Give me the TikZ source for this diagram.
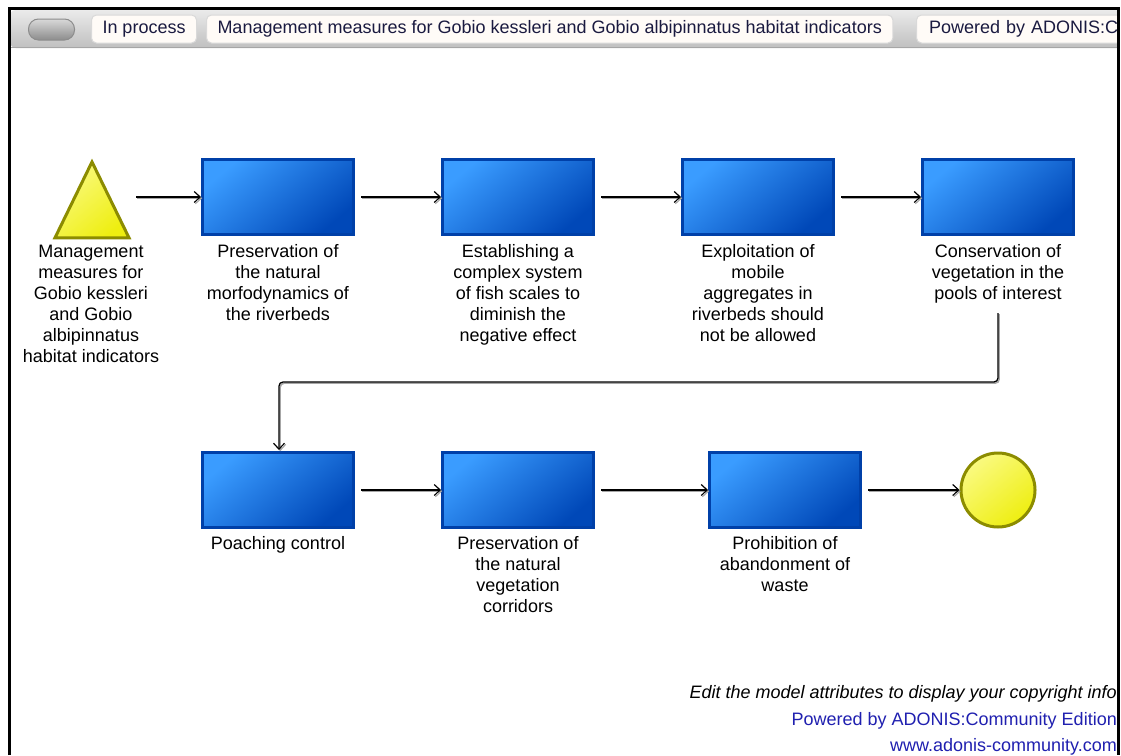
\documentclass[tikz,border=0pt]{standalone}
\usepackage{fontspec}
\setmainfont{Liberation Sans}
\usetikzlibrary{arrows.meta,shapes.geometric}
\definecolor{boxlight}{HTML}{3A9CFF}
\definecolor{boxdark}{HTML}{0048B8}
\definecolor{boxborder}{HTML}{0040A8}
\definecolor{ylight}{HTML}{FAFA80}
\definecolor{ydark}{HTML}{EEEE10}
\definecolor{yborder}{HTML}{8C8C00}
\definecolor{tabtext}{HTML}{1A1A40}
\definecolor{linkblue}{HTML}{2020B0}
\tikzset{
  txt/.style={font=\fontsize{18}{21}\selectfont, inner sep=0pt, align=center},
  stepbox/.style={draw=boxborder, line width=3pt, minimum width=151pt, minimum height=75pt,
    top color=boxlight, bottom color=boxdark, shading angle=40},
  lbl/.style={txt, anchor=north},
  conn/.style={draw=black, line width=1.3pt, -{Straight Barb[length=6pt,width=11pt,line width=1.1pt]},
    preaction={draw=black!35, line width=1.5pt, transform canvas={shift={(1.2pt,-1.2pt)}}}},
  tab/.style={draw=black!15, fill=white!97!orange, rounded corners=5pt, line width=1pt,
    minimum height=28pt, inner xsep=11pt, font=\fontsize{18}{20}\selectfont, text=tabtext},
}
\begin{document}
\begin{tikzpicture}[x=1pt,y=-1pt]
\useasboundingbox (0,0) rectangle (1121,755);
\fill[white] (0,0) rectangle (1121,755);
\begin{scope}
\clip (10,10) rectangle (1117,755);
% toolbar
\shade[top color=black!8, bottom color=black!25, rounded corners=6pt] (10,10) rectangle (1140,48);
\draw[black!35, line width=1pt] (10,47.5) -- (1140,47.5);
\node[draw=black!45, line width=1pt, rounded corners=10pt, minimum width=46pt, minimum height=21pt,
  top color=black!15, bottom color=black!45] (pill) at (51.5,29.5) {};
\node[tab, anchor=west] (t1) at (91,29) {In process};
\node[tab, anchor=west] (t2) at (206,29) {Management measures for Gobio kessleri and Gobio albipinnatus habitat indicators};
\node[tab, anchor=west, minimum width=230pt, text width=205pt, align=left] (t3) at (916,29) {Powered by ADONIS:C};
% footer
\node[txt, anchor=base east, font=\fontsize{18}{21}\selectfont\itshape] (f1) at (1117,698.5) {Edit the model attributes to display your copyright info};
\node[txt, anchor=base east, text=linkblue] (f2) at (1117,725.5) {Powered by ADONIS:Community Edition};
\node[txt, anchor=base east, text=linkblue] (f3) at (1117,751) {\underline{www.adonis-community.com}};
\end{scope}
% frame
\draw[black, line width=3pt] (9,755) -- (9,8.5) -- (1118.5,8.5) -- (1118.5,755);
% start triangle
\node[draw=yborder, line width=3pt, isosceles triangle, isosceles triangle apex angle=52,
  shape border rotate=90, minimum height=76pt, inner sep=0pt, anchor=apex,
  top color=ylight, bottom color=ydark, shading angle=40] (start) at (92,158.5) {};
\node[lbl] (lstart) at (91,244.5) {Management\\measures for\\Gobio kessleri\\and Gobio\\albipinnatus\\habitat indicators};
% row 1
\node[stepbox] (b1) at (278,197) {};
\node[stepbox] (b2) at (518,197) {};
\node[stepbox] (b3) at (758,197) {};
\node[stepbox] (b4) at (998,197) {};
\node[lbl] (l1) at (278,244.5) {Preservation of\\the natural\\morfodynamics of\\the riverbeds};
\node[lbl] (l2) at (518,244.5) {Establishing a\\complex system\\of fish scales to\\diminish the\\negative effect};
\node[lbl] (l3) at (758,244.5) {Exploitation of\\mobile\\aggregates in\\riverbeds should\\not be allowed};
\node[lbl] (l4) at (998,244.5) {Conservation of\\vegetation in the\\pools of interest};
% row 2
\node[stepbox] (b5) at (278,490) {};
\node[stepbox] (b6) at (518,490) {};
\node[stepbox] (b7) at (785,490) {};
\node[draw=yborder, line width=3pt, circle, minimum size=74pt, inner sep=0pt,
  top color=ylight, bottom color=ydark, shading angle=40] (end) at (998,490) {};
\node[lbl] (l5) at (278,536.5) {Poaching control};
\node[lbl] (l6) at (518,536.5) {Preservation of\\the natural\\vegetation\\corridors};
\node[lbl] (l7) at (785,536.5) {Prohibition of\\abandonment of\\waste};
% connectors
\draw[conn] (136,197) -- (b1.west);
\draw[conn] (b1.east) ++(6,0) -- (b2.west);
\draw[conn] (b2.east) ++(6,0) -- (b3.west);
\draw[conn] (b3.east) ++(6,0) -- (b4.west);
\coordinate (c1) at (998,313);
\draw[conn, rounded corners=4pt] (c1) -- (998,382) -- (279,382) -- (279,450);
\draw[conn] (b5.east) ++(6,0) -- (b6.west);
\draw[conn] (b6.east) ++(6,0) -- (b7.west);
\draw[conn] (b7.east) ++(6,0) -- (end.west);
\end{tikzpicture}
\end{document}
